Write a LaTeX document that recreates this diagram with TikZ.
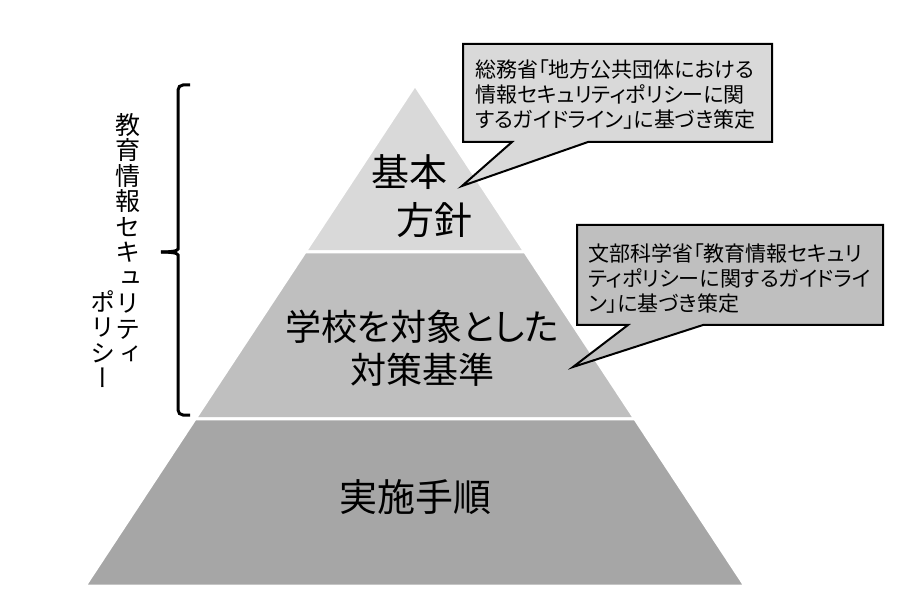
\documentclass[tikz,border=0pt]{standalone}
\usepackage{fontspec}
\setmainfont{Noto Sans CJK JP}[RawFeature={+palt}]
\newfontfamily\vfont{Noto Sans CJK JP}[RawFeature={+vert}]
\usetikzlibrary{calc}
\definecolor{lay1}{HTML}{D9D9D9}
\definecolor{lay2}{HTML}{BFBFBF}
\definecolor{lay3}{HTML}{A6A6A6}
\newcommand{\fs}[2]{\fontsize{#1}{#2}\selectfont}
\tikzset{
  layer/.style={draw=white,line width=3pt,line join=round},
  callout/.style={draw=black,line width=2pt,line join=miter},
  brace/.style={draw=black,line width=3pt,rounded corners=5pt},
  note/.style={anchor=west,align=left,inner sep=0pt,font=\fs{21}{25}},
  vtext/.style={anchor=north,align=center,inner sep=0pt,font=\vfont\fs{25}{25.5}}
}

\begin{document}
\begin{tikzpicture}[x=1pt,y=-1pt]
\useasboundingbox (0,0) rectangle (898,596);
\coordinate (A) at (415,85);
\coordinate (BL) at (85,586);
\coordinate (BR) at (745,586);
\filldraw[layer,fill=lay1] (A) -- ($(A)!1/3!(BR)$) -- ($(A)!1/3!(BL)$) -- cycle;
\filldraw[layer,fill=lay2] ($(A)!1/3!(BL)$) -- ($(A)!1/3!(BR)$) -- ($(A)!2/3!(BR)$) -- ($(A)!2/3!(BL)$) -- cycle;
\filldraw[layer,fill=lay3] ($(A)!2/3!(BL)$) -- ($(A)!2/3!(BR)$) -- (BR) -- (BL) -- cycle;
\node[align=left,inner sep=0pt,font=\fs{38}{48}] (L1) at (422,196) {基本\\\hspace*{25pt}方針};
\node[align=center,inner sep=0pt,font=\fs{36}{43}] (L2) at (422,348) {学校を対象とした\\対策基準};
\node[inner sep=0pt,font=\fs{38}{38}] (L3) at (415,497) {実施手順};

\coordinate (T1) at (462,186);
\coordinate (T2) at (573,367);
\draw[callout,fill=lay1] (463,44) -- (772,44) -- (772,142) -- (588,142) -- (T1) -- (512,142) -- (463,142) -- cycle;
\draw[callout,fill=lay2] (577,225) -- (883,225) -- (883,325) -- (703,325) -- (T2) -- (628,325) -- (577,325) -- cycle;
\node[note] (C1) at (475,95) {総務省「地方公共団体における\\情報セキュリティポリシーに関\\するガイドライン」に基づき策定};
\node[note] (C2) at (588,279) {文部科学省「教育情報セキュリ\\ティポリシーに関するガイドライ\\ン」に基づき策定};

\draw[brace] (190,85) -- (178,85) -- (178,244) to[out=-90,in=0] (161,252);
\draw[brace] (161,252) to[out=0,in=90] (178,260) -- (178,415) -- (190,415);
\node[vtext] (V1) at (128,113) {教\\育\\情\\報\\セ\\キ\\ュ\\リ\\テ\\ィ};
\node[vtext] (V2) at (103,290) {ポ\\リ\\シ\\ー};
\end{tikzpicture}
\end{document}
